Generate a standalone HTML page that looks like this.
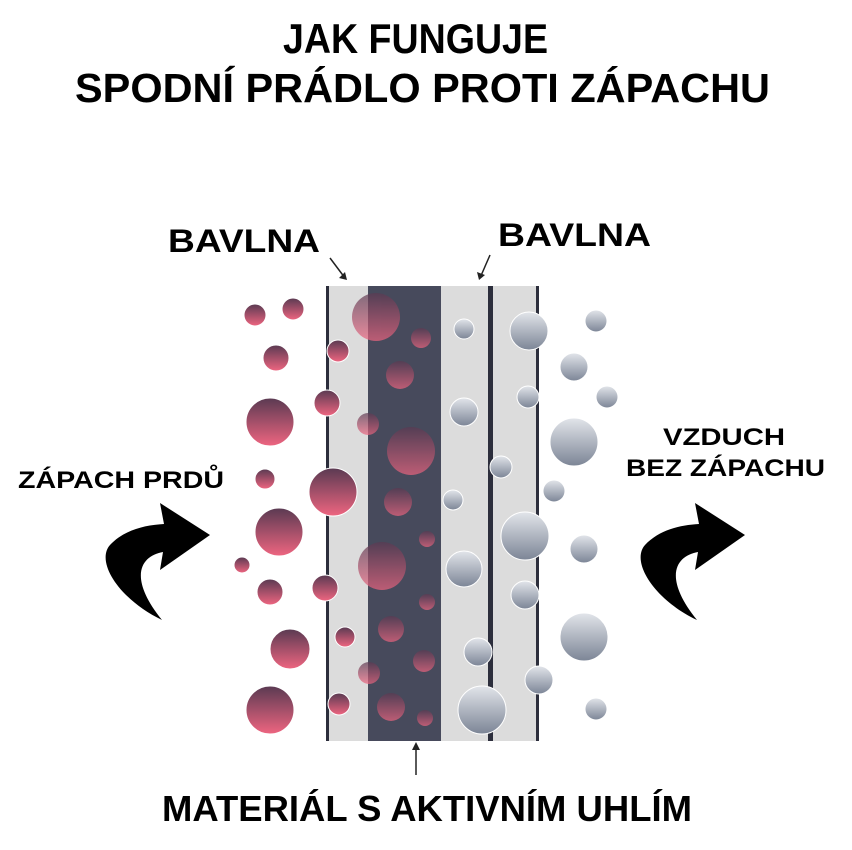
<!DOCTYPE html>
<html><head><meta charset="utf-8"><style>
html,body{margin:0;padding:0;background:#fff}
svg{display:block}
text{font-family:"Liberation Sans",sans-serif;font-weight:bold;fill:#000}
</style></head><body>
<svg width="852" height="850" viewBox="0 0 852 850" xmlns="http://www.w3.org/2000/svg">
<defs>
<linearGradient id="r" x1="0" y1="0" x2="0" y2="1"><stop offset="0" stop-color="#5a3a52"/><stop offset="1" stop-color="#ee6580"/></linearGradient>
<linearGradient id="g" x1="0" y1="0" x2="0" y2="1"><stop offset="0" stop-color="#e2e5ea"/><stop offset="1" stop-color="#7c8596"/></linearGradient>
</defs>
<text x="283" y="53" font-size="42" textLength="265" lengthAdjust="spacingAndGlyphs">JAK FUNGUJE</text>
<text x="75" y="102" font-size="41" textLength="695" lengthAdjust="spacingAndGlyphs">SPODNÍ PRÁDLO PROTI ZÁPACHU</text>
<text x="168" y="252" font-size="32" textLength="152" lengthAdjust="spacingAndGlyphs">BAVLNA</text>
<text x="498" y="246" font-size="32" textLength="153" lengthAdjust="spacingAndGlyphs">BAVLNA</text>
<text x="18" y="488" font-size="24" textLength="206" lengthAdjust="spacingAndGlyphs">ZÁPACH PRDŮ</text>
<text x="663" y="445" font-size="24" textLength="122" lengthAdjust="spacingAndGlyphs">VZDUCH</text>
<text x="626" y="476" font-size="24" textLength="199" lengthAdjust="spacingAndGlyphs">BEZ ZÁPACHU</text>
<text x="162" y="821" font-size="36" textLength="530" lengthAdjust="spacingAndGlyphs">MATERIÁL S AKTIVNÍM UHLÍM</text>
<g stroke="#222" stroke-width="1.5" fill="none"><path d="M330,258 L345,278"/><path d="M490,255 L480,278"/><path d="M416,775 L416,748"/></g>
<path d="M339,278 L347,280 L345,272Z M477,272 L479,280 L485,275Z M412,750 L416,742 L420,750Z" fill="#222"/>
<rect x="326" y="286" width="213" height="455" fill="#dcdcdc"/>
<rect x="368" y="286" width="73" height="455" fill="#474a5c"/>
<rect x="326" y="286" width="3" height="455" fill="#2c2e3c"/>
<rect x="488" y="286" width="5" height="455" fill="#2c2e3c"/>
<rect x="536" y="286" width="3" height="455" fill="#2c2e3c"/>
<g fill="url(#r)" stroke="#fff" stroke-width="1">
<circle cx="255" cy="315" r="11"/><circle cx="293" cy="309" r="11"/><circle cx="276" cy="358" r="13"/><circle cx="270" cy="422" r="24"/><circle cx="265" cy="479" r="10"/><circle cx="333" cy="492" r="24"/><circle cx="279" cy="532" r="24"/><circle cx="242" cy="565" r="8"/><circle cx="270" cy="592" r="13"/><circle cx="325" cy="588" r="13"/><circle cx="290" cy="649" r="20"/><circle cx="270" cy="710" r="24"/><circle cx="338" cy="351" r="11"/><circle cx="327" cy="403" r="13"/><circle cx="345" cy="637" r="10"/><circle cx="339" cy="704" r="11"/>
</g>
<g fill="url(#r)" opacity="0.7">
<circle cx="376" cy="317" r="24"/><circle cx="421" cy="338" r="10"/><circle cx="400" cy="375" r="14"/><circle cx="368" cy="424" r="11"/><circle cx="411" cy="451" r="24"/><circle cx="398" cy="502" r="14"/><circle cx="427" cy="539" r="8"/><circle cx="382" cy="566" r="24"/><circle cx="427" cy="602" r="8"/><circle cx="391" cy="629" r="13"/><circle cx="424" cy="661" r="11"/><circle cx="369" cy="673" r="11"/><circle cx="391" cy="707" r="14"/><circle cx="425" cy="718" r="8"/>
</g>
<g fill="url(#g)" stroke="#fff" stroke-width="1">
<circle cx="464" cy="329" r="10"/><circle cx="529" cy="331" r="19"/><circle cx="596" cy="321" r="11"/><circle cx="574" cy="367" r="14"/><circle cx="528" cy="397" r="11"/><circle cx="607" cy="397" r="11"/><circle cx="464" cy="412" r="14"/><circle cx="574" cy="442" r="24"/><circle cx="501" cy="467" r="11"/><circle cx="554" cy="491" r="11"/><circle cx="453" cy="500" r="10"/><circle cx="525" cy="536" r="24"/><circle cx="584" cy="549" r="14"/><circle cx="464" cy="569" r="18"/><circle cx="525" cy="595" r="14"/><circle cx="584" cy="637" r="24"/><circle cx="478" cy="652" r="14"/><circle cx="539" cy="680" r="14"/><circle cx="482" cy="710" r="24"/><circle cx="596" cy="709" r="11"/>
</g>
<path d="M162,620 C120,600 95,562 110,545 C124,530 145,525 164,524 L160,503 L210,535 L160,570 L163,552 C140,556 128,578 162,620 Z" fill="#000"/>
<path d="M162,620 C120,600 95,562 110,545 C124,530 145,525 164,524 L160,503 L210,535 L160,570 L163,552 C140,556 128,578 162,620 Z" fill="#000" transform="translate(535,0)"/>
</svg>
</body></html>
